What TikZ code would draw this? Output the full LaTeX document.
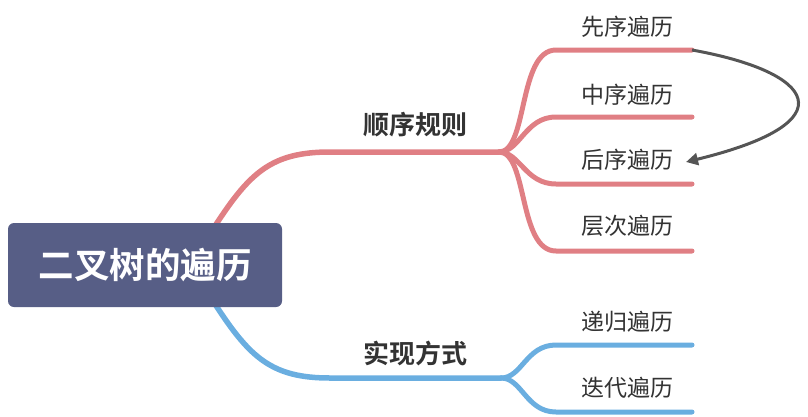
\documentclass[tikz,border=0pt]{standalone}
\usepackage{fontspec}
\newfontfamily\cjk{Noto Sans CJK SC}[BoldFont={Noto Sans CJK SC Bold}]
\usetikzlibrary{arrows.meta}
\definecolor{rootc}{HTML}{575E86}
\definecolor{redc}{HTML}{E07F84}
\definecolor{bluec}{HTML}{6AAEE0}
\definecolor{arrc}{HTML}{555555}
\definecolor{txtc}{HTML}{333333}
\tikzset{
  rootbox/.style={fill=rootc, rounded corners=6pt, minimum width=274pt, minimum height=84pt, inner sep=0pt, text=white, font=\cjk\bfseries\fontsize{35.5}{40}\selectfont},
  mainlbl/.style={text=txtc, font=\cjk\bfseries\fontsize{26}{30}\selectfont, inner sep=0pt},
  leaflbl/.style={text=txtc, font=\cjk\fontsize{23}{26}\selectfont, inner sep=0pt},
  redmain/.style={draw=redc, line width=5.5pt, line cap=round},
  redleaf/.style={draw=redc, line width=5pt, line cap=round},
  bluemain/.style={draw=bluec, line width=5.5pt, line cap=round},
  blueleaf/.style={draw=bluec, line width=5pt, line cap=round},
  jump/.style={draw=arrc, line width=3pt, -{Triangle[length=12pt,width=12pt]}},
}
\begin{document}
\begin{tikzpicture}[x=1pt,y=-1pt]
\useasboundingbox (0,0) rectangle (808,416);
% coordinates
\coordinate (rs) at (215,226);
\coordinate (rf) at (499,152);
\coordinate (bs) at (215,304);
\coordinate (bf) at (501,378);
\coordinate (e1) at (692,50);
\coordinate (e2) at (692,117);
\coordinate (e3) at (692,184);
\coordinate (e4) at (692,251);
\coordinate (e5) at (692,345);
\coordinate (e6) at (692,412);
% branches
\draw[redmain] (rs) .. controls (250,172) and (272,152) .. (330,152) -- (rf);
\draw[bluemain] (bs) .. controls (250,358) and (272,378) .. (330,378) -- (bf);
\draw[redleaf] (rf) .. controls (528,152) and (518,50) .. (556,50) -- (e1);
\draw[redleaf] (rf) .. controls (520,152) and (525,117) .. (556,117) -- (e2);
\draw[redleaf] (rf) .. controls (520,152) and (525,184) .. (556,184) -- (e3);
\draw[redleaf] (rf) .. controls (528,152) and (518,251) .. (556,251) -- (e4);
\draw[blueleaf] (bf) .. controls (522,378) and (526,345) .. (556,345) -- (e5);
\draw[blueleaf] (bf) .. controls (522,378) and (526,412) .. (556,412) -- (e6);
% root
\node[rootbox] (root) at (145,265) {二叉树的遍历};
% labels
\node[mainlbl] (m1) at (415,125) {顺序规则};
\node[mainlbl] (m2) at (415,353) {实现方式};
\node[leaflbl] (l1) at (627,27) {先序遍历};
\node[leaflbl] (l2) at (627,95) {中序遍历};
\node[leaflbl] (l3) at (627,160) {后序遍历};
\node[leaflbl] (l4) at (627,226) {层次遍历};
\node[leaflbl] (l5) at (627,322) {递归遍历};
\node[leaflbl] (l6) at (627,388) {迭代遍历};
% arrow
\draw[jump] (e1) .. controls (815,72) and (850,122) .. (686,162);
\end{tikzpicture}
\end{document}
